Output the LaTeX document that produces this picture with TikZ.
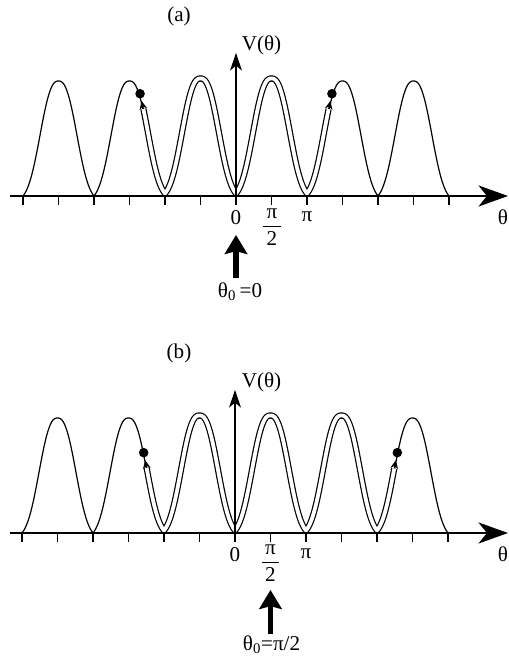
\documentclass[tikz,border=0pt]{standalone}
\usepackage{fontspec}
\setmainfont{Liberation Serif}
\usetikzlibrary{arrows.meta,calc}

\begin{document}
\begin{tikzpicture}[
    x=0.025cm, y=0.025cm,
    declare function={
        pw(\t)=mod(\t+10,1)-0.5;
        pr(\t)=abs(pw(\t))/0.32;
        pV(\t)=(exp(-pr(\t)^2*sqrt(pr(\t)))-0.0473)/0.9527;
    },
    lbl/.style={font=\fontsize{15}{18}\selectfont,inner sep=0pt},
    pot/.style={line width=0.85pt,samples=301,line join=round},
    tube/.style={pot,double=white,double distance=2.7pt},
    axline/.style={line width=0.9pt},
    haxis/.style={axline,-{Stealth[length=21pt,width=15pt,inset=6pt]}},
    vaxis/.style={axline,-{Stealth[length=12.5pt,width=8.5pt,inset=3.5pt]}},
    kick/.style={line width=3.6pt,-{Stealth[length=13.5pt,width=16pt,inset=2pt]}},
    tipar/.style={line width=0.85pt,-{Stealth[length=6pt,width=5.5pt,inset=2pt]}},
    ball/.style={circle,fill,inner sep=0pt,minimum size=6.8pt},
]
\useasboundingbox (0,0) rectangle (508,659);

% (a)
\begin{scope}[shift={(236,463)}]
    \draw[pot,domain=-3:3] plot ({71*\x},{115*pV(\x)});
    \draw[tube,domain=-1.305:1.305] plot ({71*\x},{115*pV(\x)+2.5});
    \coordinate (aLe) at ({-71*1.305},{115*pV(-1.305)+2.5});
    \coordinate (aLt) at ({-71*1.33},{115*pV(-1.33)+2.5});
    \coordinate (aRe) at ({71*1.305},{115*pV(1.305)+2.5});
    \coordinate (aRt) at ({71*1.33},{115*pV(1.33)+2.5});
    \draw[tipar] (aLe) -- (aLt);
    \draw[tipar] (aRe) -- (aRt);
    \node[ball] (aLball) at ($(aLt)+(-1.5,7.2)$) {};
    \node[ball] (aRball) at ($(aRt)+(1.5,7.2)$) {};
    \foreach \k in {-3,-2.5,...,3}
        \draw[axline] ({71*\k},0) -- ++(0,-9);
    \coordinate (aO) at (0,0);
    \coordinate (aW) at (-226,0);
    \coordinate (aE) at (272,0);
    \coordinate (aN) at (0,143);
    \draw[haxis] (aW) -- (aE);
    \draw[vaxis] (aO) -- (aN);
    \node[lbl] (atag) at (-57,179.5) {(a)};
    \node[lbl] (aV) at (25.5,151) {V(θ)};
    \node[lbl] (azero) at (0,-22) {0};
    \node[lbl] (ahalf) at (36,-31) {$\displaystyle\frac{\mbox{\,π\,}}{\mbox{2}}$};
    \node[lbl] (api) at (71,-21) {π};
    \node[lbl] (atheta) at (267,-21) {θ};
    \coordinate (akickS) at (0,-82);
    \coordinate (akickN) at (0,-39);
    \draw[kick] (akickS) -- (akickN);
    \node[lbl] (ainit) at (4,-96) {θ\textsubscript{0}\,=0};
\end{scope}

% (b)
\begin{scope}[shift={(235,126)}]
    \draw[pot,domain=-3:3] plot ({71*\x},{115*pV(\x)});
    \draw[tube,domain=-1.245:2.245] plot ({71*\x},{115*pV(\x)+2.5});
    \coordinate (bLe) at ({-71*1.245},{115*pV(-1.245)+2.5});
    \coordinate (bLt) at ({-71*1.265},{115*pV(-1.265)+2.5});
    \coordinate (bRe) at ({71*2.245},{115*pV(2.245)+2.5});
    \coordinate (bRt) at ({71*2.265},{115*pV(2.265)+2.5});
    \draw[tipar] (bLe) -- (bLt);
    \draw[tipar] (bRe) -- (bRt);
    \node[ball] (bLball) at ($(bLt)+(-1.5,7.5)$) {};
    \node[ball] (bRball) at ($(bRt)+(1.5,7.5)$) {};
    \foreach \k in {-3,-2.5,...,3}
        \draw[axline] ({71*\k},0) -- ++(0,-9);
    \coordinate (bO) at (0,0);
    \coordinate (bW) at (-225,0);
    \coordinate (bE) at (273,0);
    \coordinate (bN) at (0,143);
    \draw[haxis] (bW) -- (bE);
    \draw[vaxis] (bO) -- (bN);
    \node[lbl] (btag) at (-56,179.5) {(b)};
    \node[lbl] (bV) at (26.5,151) {V(θ)};
    \node[lbl] (bzero) at (0,-22) {0};
    \node[lbl] (bhalf) at (35.5,-30) {$\displaystyle\frac{\mbox{\,π\,}}{\mbox{2}}$};
    \node[lbl] (bpi) at (71,-21) {π};
    \node[lbl] (btheta) at (268,-21) {θ};
    \coordinate (bkickS) at (35.5,-101);
    \coordinate (bkickN) at (35.5,-57);
    \draw[kick] (bkickS) -- (bkickN);
    \node[lbl] (binit) at (36.5,-112) {θ\textsubscript{0}=π/2};
\end{scope}
\end{tikzpicture}
\end{document}
